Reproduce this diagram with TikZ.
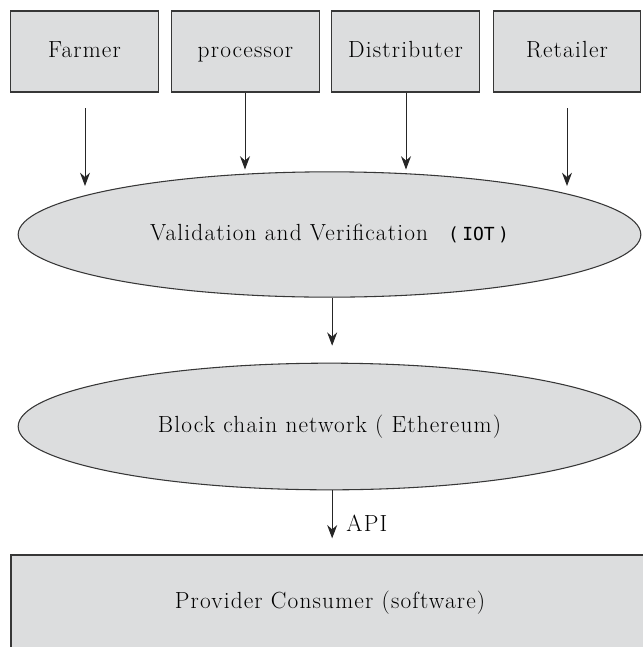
\documentclass[tikz,border=0pt]{standalone}
\usepackage{fontspec}
\setmainfont{Latin Modern Roman}[LetterSpace=5]
\newfontfamily\monofont{DejaVu Sans Mono}
\usetikzlibrary{arrows.meta,shapes.geometric}
\definecolor{panelfill}{RGB}{220,221,222}
\definecolor{panelline}{RGB}{55,55,55}
\tikzset{
  labelfont/.style={font=\fontsize{17.5}{21}\selectfont, text=black},
  base/.style={draw=panelline, line width=0.8pt, fill=panelfill, inner sep=0pt,
               labelfont, text height=12pt, text depth=3.5pt},
  actor/.style={base, rectangle, minimum width=110.5pt, minimum height=60.75pt},
  stage/.style={base, ellipse, minimum width=467pt, minimum height=94pt},
  flow/.style={draw=black!85, line width=0.75pt, -{Stealth[length=10pt,width=7.5pt]}}
}
\begin{document}
\begin{tikzpicture}[x=0.75pt, y=-0.75pt]
\useasboundingbox (0,0) rectangle (643,647);

% participants
\node[actor] (farm) at (84.5,51.5) {Farmer};
\node[actor] (proc) at (245.5,51.5) {processor};
\node[actor] (dist) at (405.5,51.5) {Distributer};
\node[actor] (ret)  at (567,51.5)  {Retailer};

% validation layer and chain
\node[stage] (val) at (329.5,234.5)
  {Validation and Verification\hspace{15pt}{\monofont\fontsize{13.5}{16}\selectfont(\hspace{2.5pt}IOT\hspace{2.5pt})}\hspace{24pt}};
\node[stage, minimum height=95pt] (chain) at (329.5,426.5) {Block chain network ( Ethereum)};

% consumer application
\node[base, rectangle, minimum width=478.5pt, minimum height=72pt] (cons) at (330,603)
  {Provider Consumer (software)};

% free ends of the outer arrows
\coordinate (fa1) at (85,108);
\coordinate (fa2) at (85,186);
\coordinate (ra1) at (567,108);
\coordinate (ra2) at (567,186);

\draw[flow] (fa1) -- (fa2);
\draw[flow] (proc.south -| 245,0) -- ++(0,77);
\draw[flow] (dist.south -| 406,0) -- ++(0,77);
\draw[flow] (ra1) -- (ra2);

\draw[flow] ([xshift=2pt]val.south) -- ++(0,48);
\draw[flow] ([xshift=2pt]chain.south) -- ++(0,48)
  node[pos=0.68, right=7pt, labelfont] (api) {API};
\end{tikzpicture}
\end{document}
